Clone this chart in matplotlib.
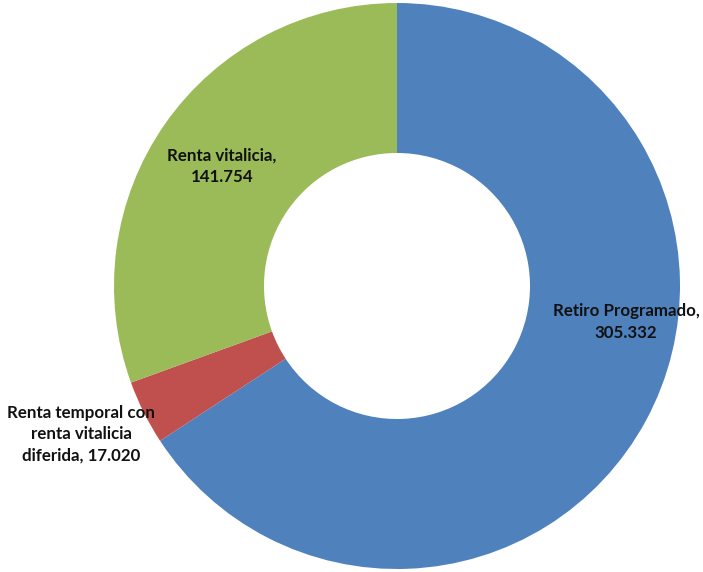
import matplotlib
matplotlib.use("Agg")
import matplotlib.pyplot as plt

# pension modality totals
labels = ["Retiro Programado", "Renta temporal con\nrenta vitalicia\ndiferida", "Renta vitalicia"]
values = [305.332, 17.020, 141.754]
colors = ["#4F81BD", "#C0504D", "#9BBB59"]

# label anchor points in pixel coordinates of the figure
label_px = [(626, 322), (81, 434), (222, 166)]

W, H = 703, 572
cx, cy, R = 397, 286, 283

fig = plt.figure(figsize=(W / 100, H / 100), dpi=100)
ax = fig.add_axes([0, 0, 1, 1])

ax.pie(values, colors=colors, startangle=90, counterclock=False, radius=1,
       wedgeprops=dict(width=0.53, edgecolor="none"))

# pie() resets the limits, so put the ring where it belongs afterwards
ax.set_aspect("auto")
ax.set_xlim(-cx / R, (W - cx) / R)
ax.set_ylim(-(H - cy) / R, cy / R)
ax.axis("off")

for lab, v, (px, py) in zip(labels, values, label_px):
    sep = ", " if "\n" in lab else ",\n"
    ax.text((px - cx) / R, (cy - py) / R, f"{lab}{sep}{v:.3f}",
            ha="center", va="center", fontsize=12.2, fontweight="bold",
            family="Lato", color="#111111", linespacing=1.42)

fig.savefig("out.png", dpi=100)
